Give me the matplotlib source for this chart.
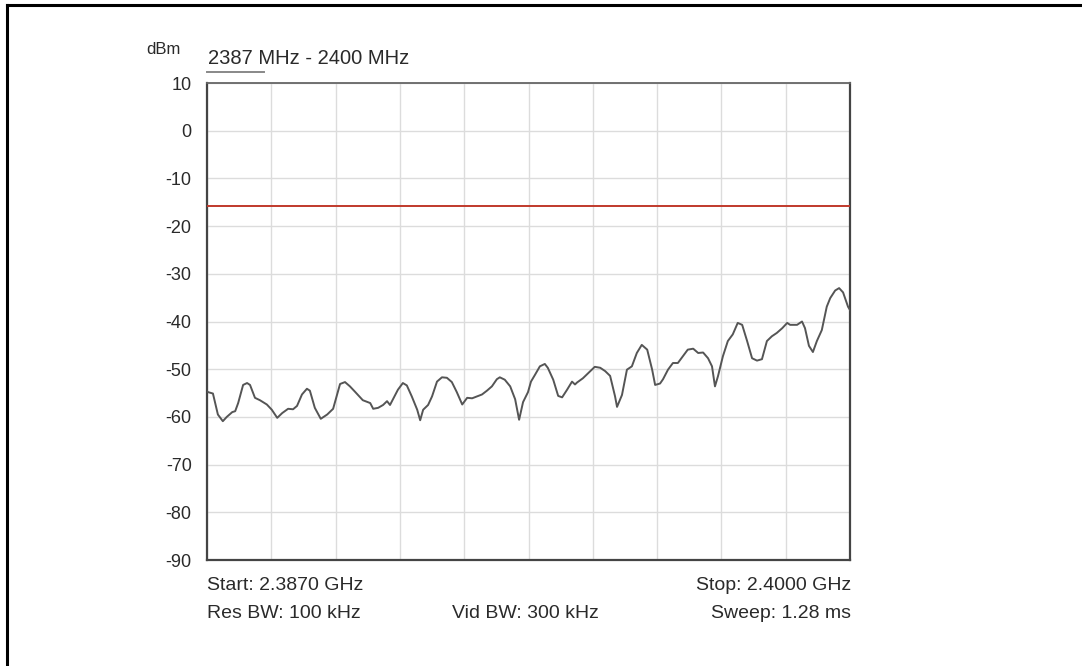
import matplotlib
matplotlib.use("Agg")
import matplotlib.pyplot as plt
from matplotlib.lines import Line2D

plt.rcParams['font.family'] = ['Liberation Sans', 'DejaVu Sans']

# ---- data ----
freq_mhz = [2387.00, 2387.02, 2387.12, 2387.22, 2387.32, 2387.40, 2387.51, 2387.57, 2387.63,
            2387.73, 2387.81, 2387.87, 2387.97, 2388.07, 2388.21, 2388.31, 2388.42,
            2388.52, 2388.64, 2388.74, 2388.82, 2388.92, 2389.02, 2389.08, 2389.18,
            2389.30, 2389.43, 2389.55, 2389.63, 2389.69, 2389.79, 2389.89, 2389.99,
            2390.15, 2390.30, 2390.36, 2390.46, 2390.56, 2390.64, 2390.70, 2390.76,
            2390.86, 2390.96, 2391.04, 2391.14, 2391.25, 2391.31, 2391.37, 2391.47,
            2391.55, 2391.65, 2391.75, 2391.85, 2391.95, 2392.05, 2392.16, 2392.26,
            2392.36, 2392.46, 2392.56, 2392.66, 2392.76, 2392.86, 2392.92, 2393.02,
            2393.13, 2393.23, 2393.31, 2393.39, 2393.49, 2393.55, 2393.63, 2393.73,
            2393.83, 2393.89, 2394.00, 2394.10, 2394.18, 2394.28, 2394.38, 2394.44,
            2394.48, 2394.60, 2394.74, 2394.84, 2394.95, 2395.05, 2395.15, 2395.25,
            2395.29, 2395.39, 2395.49, 2395.59, 2395.69, 2395.79, 2395.90, 2396.00,
            2396.06, 2396.16, 2396.22, 2396.32, 2396.42, 2396.52, 2396.62, 2396.72,
            2396.83, 2396.93, 2397.03, 2397.13, 2397.21, 2397.27, 2397.33, 2397.43,
            2397.53, 2397.63, 2397.73, 2397.82, 2397.92, 2398.02, 2398.12, 2398.22,
            2398.32, 2398.42, 2398.52, 2398.63, 2398.73, 2398.79, 2398.93, 2399.03,
            2399.09, 2399.17, 2399.25, 2399.33, 2399.43, 2399.53, 2399.60, 2399.70,
            2399.78, 2399.86, 2399.96, 2400.00]
level_dbm = [-54.6, -54.8, -55.1, -59.5, -60.9, -60.0, -59.0, -58.8, -57.1,
             -53.3, -52.9, -53.3, -56.0, -56.5, -57.4, -58.5, -60.2,
             -59.2, -58.3, -58.4, -57.7, -55.3, -54.1, -54.5, -58.1,
             -60.4, -59.5, -58.3, -55.3, -53.1, -52.7, -53.6, -54.7,
             -56.5, -57.1, -58.3, -58.1, -57.5, -56.7, -57.5, -56.3,
             -54.3, -52.9, -53.4, -55.7, -58.5, -60.7, -58.5, -57.5,
             -55.7, -52.6, -51.7, -51.8, -52.7, -54.8, -57.4, -56.0,
             -56.1, -55.7, -55.3, -54.5, -53.6, -52.1, -51.7, -52.2,
             -53.6, -56.3, -60.6, -56.9, -54.8, -52.6, -51.2, -49.4,
             -48.9, -49.7, -52.2, -55.6, -55.9, -54.3, -52.6, -53.2,
             -52.8, -51.9, -50.5, -49.5, -49.7, -50.4, -51.4, -55.7,
             -57.9, -55.4, -50.1, -49.4, -46.6, -44.9, -45.9, -50.1,
             -53.3, -53.0, -52.1, -50.1, -48.7, -48.7, -47.3, -45.9,
             -45.7, -46.6, -46.5, -47.7, -49.4, -53.6, -51.5, -47.3,
             -44.1, -42.7, -40.3, -40.7, -44.1, -47.7, -48.2, -47.9,
             -44.1, -43.1, -42.4, -41.4, -40.3, -40.7, -40.7, -40.0,
             -41.4, -45.1, -46.4, -44.1, -41.8, -36.9, -35.1, -33.5,
             -33.0, -33.9, -36.9, -37.6]
limit_dbm = -15.8
y_ticks = [10, 0, -10, -20, -30, -40, -50, -60, -70, -80, -90]
f_start, f_stop = 2387.0, 2400.0

W, H = 1082, 666
fig = plt.figure(figsize=(W / 100, H / 100), dpi=100)
fig.patch.set_facecolor('white')

def fx(px):
    return px / W

def fy(py):
    return 1 - py / H

TXT = '#2a2a2a'

ax = fig.add_axes([fx(207), fy(560), fx(850) - fx(207), fy(83) - fy(560)])
ax.set_xlim(f_start, f_stop)
ax.set_ylim(-90, 10)
ax.set_yticks(y_ticks)
ax.set_yticklabels([str(t) for t in y_ticks], fontsize=13, color=TXT)
step = (f_stop - f_start) / 10
ax.set_xticks([f_start + i * step for i in range(11)])
ax.tick_params(axis='x', length=0, labelbottom=False)
ax.tick_params(axis='y', length=0, pad=11)
ax.grid(True, color='#dcdcdc', linewidth=1.0)
ax.set_axisbelow(True)
for side in ['left', 'bottom', 'right']:
    ax.spines[side].set_color('#444444')
    ax.spines[side].set_linewidth(1.6)
ax.spines['top'].set_color('#666666')
ax.spines['top'].set_linewidth(1.3)

ax.axhline(limit_dbm, color='#c0392b', linewidth=1.4, zorder=3)
ax.plot(freq_mhz, level_dbm, color='#555555', linewidth=1.4, zorder=4)

# texts
fig.text(fx(146), fy(49), 'dBm', fontsize=12, color=TXT, ha='left', va='center')
fig.text(fx(208), fy(58), '2387 MHz - 2400 MHz', fontsize=14.5, color=TXT, ha='left', va='center')
fig.add_artist(Line2D([fx(207), fx(264)], [fy(72), fy(72)], color='#888888', linewidth=1.4))

fig.text(fx(207), fy(585), 'Start: 2.3870 GHz', fontsize=14, color=TXT, ha='left', va='center')
fig.text(fx(851), fy(585), 'Stop: 2.4000 GHz', fontsize=14, color=TXT, ha='right', va='center')
fig.text(fx(207), fy(613), 'Res BW: 100 kHz', fontsize=14, color=TXT, ha='left', va='center')
fig.text(fx(525), fy(613), 'Vid BW: 300 kHz', fontsize=14, color=TXT, ha='center', va='center')
fig.text(fx(851), fy(613), 'Sweep: 1.28 ms', fontsize=14, color=TXT, ha='right', va='center')

# outer frame (top and left border)
fig.add_artist(Line2D([fx(7), fx(1082)], [fy(5), fy(5)], color='black', linewidth=2.2))
fig.add_artist(Line2D([fx(7), fx(7)], [fy(5), fy(666)], color='black', linewidth=2.2))

fig.savefig('out.png', dpi=100, facecolor='white')
